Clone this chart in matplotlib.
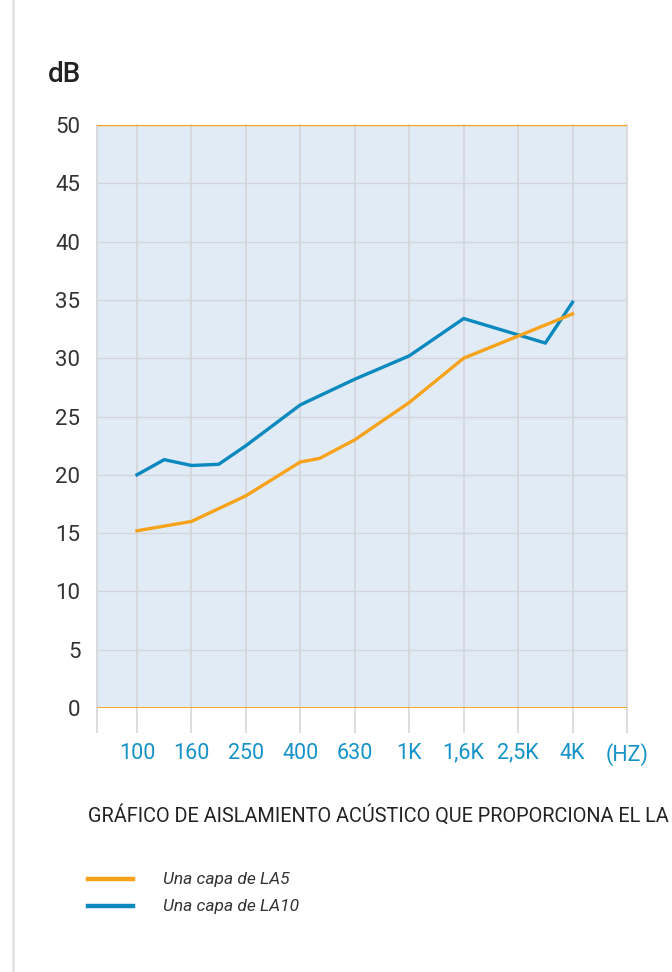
import matplotlib
matplotlib.use("Agg")
import matplotlib.pyplot as plt

# third-octave index: 0 = 100 Hz ... 16 = 4 kHz
tick_pos = [0, 2, 4, 6, 8, 10, 12, 14, 16, 18]
tick_labels = ["100", "160", "250", "400", "630", "1K", "1,6K", "2,5K", "4K", "(HZ)"]

la10_x = [0, 1, 2, 3, 4, 6, 8, 10, 12, 15, 16]
la10_y = [20.0, 21.3, 20.8, 20.9, 22.5, 26.0, 28.2, 30.2, 33.4, 31.3, 34.8]

la5_x = [0, 2, 4, 6, 6.7, 8, 10, 12, 16]
la5_y = [15.2, 16.0, 18.2, 21.1, 21.4, 23.0, 26.2, 30.0, 33.8]

orange = "#f7a21b"
blue = "#0a89bf"
label_blue = "#1593c9"
grid_c = "#d4d5da"

plt.rcParams['font.family'] = ['Roboto', 'DejaVu Sans']

fig = plt.figure(figsize=(6.72, 9.72), dpi=100)
W, H = 672.0, 972.0
ax = fig.add_axes([97 / W, (H - 708) / H, 530 / W, 583 / H])
ax.set_facecolor("#e1ebf5")
ax.set_xlim(-1.47, 18)
ax.set_ylim(0, 50)

# page border on the left
fig.add_artist(matplotlib.lines.Line2D([13 / W, 13 / W], [0, 1], color="#e3e3e3", lw=2))

# horizontal grid
for v in range(5, 50, 5):
    ax.axhline(v, color=grid_c, lw=1, zorder=1)

# vertical grid lines, running below the axis
for p in [-1.47] + tick_pos:
    ax.plot([p, p], [-2.06, 50], color=grid_c, lw=1.2, clip_on=False, zorder=1)

ax.axhline(0, color=orange, lw=1.3, zorder=2)
ax.axhline(50, color=orange, lw=1.0, zorder=2)

ax.plot(la10_x, la10_y, color=blue, lw=2.4, zorder=3, solid_joinstyle="miter")
ax.plot(la5_x, la5_y, color=orange, lw=2.4, zorder=4, solid_joinstyle="miter")

for s in ax.spines.values():
    s.set_visible(False)

ax.set_yticks(range(0, 51, 5))
ax.set_yticklabels([str(v) for v in range(0, 51, 5)], fontsize=16, color="#333333")
ax.set_xticks(tick_pos)
ax.set_xticklabels(tick_labels, fontsize=15.5, color=label_blue)
ax.tick_params(axis="y", length=0, pad=12)
ax.tick_params(axis="x", length=0, pad=25)

fig.text(48 / W, 1 - 75 / H, "dB", fontsize=20, color="#222222", va="center",
         ha="left", fontweight="medium")

fig.text(88 / W, 1 - 815 / H, "GRÁFICO DE AISLAMIENTO ACÚSTICO QUE PROPORCIONA EL LA",
         fontsize=14.3, color="#222222", va="center", ha="left")

for yy, col, lab in [(879, orange, "Una capa de LA5"), (906, blue, "Una capa de LA10")]:
    fig.add_artist(matplotlib.lines.Line2D([88 / W, 133 / W], [1 - yy / H, 1 - yy / H],
                                           color=col, lw=3.2))
    fig.text(163 / W, 1 - yy / H, lab, fontsize=12.5, style="italic", color="#333333",
             va="center", ha="left")

fig.savefig("out.png", dpi=100, facecolor="white")
